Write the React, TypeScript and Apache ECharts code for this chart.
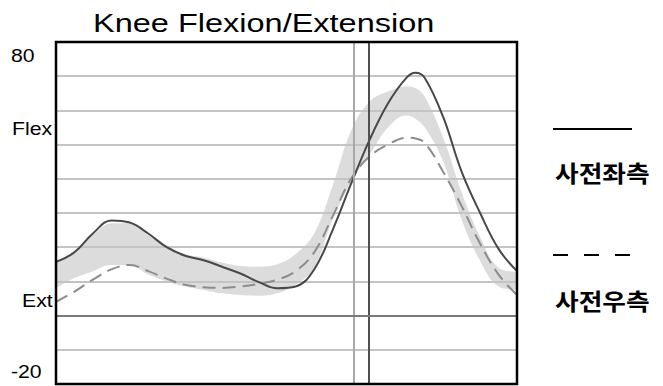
import React, { useEffect, useRef } from "react";
import * as echarts from "echarts";

const gaitPct = [0, 4, 8, 12, 16, 20, 24, 28, 32, 36, 40, 44, 48, 52, 56, 60, 64, 68, 72, 76, 78, 80, 84, 88, 92, 96, 100];
const leftKnee = [15.7, 18.5, 24, 27.8, 27.2, 24, 20, 17.5, 16.2, 14.3, 12.3, 9.8, 8, 8.5, 13.5, 25, 38.5, 51.3, 62, 69.5, 71, 69.5, 58, 42, 30, 19.5, 13];
const rightKnee = [4, 7, 10.5, 13.5, 14.8, 13, 10.8, 9, 8.3, 8.1, 8.5, 9.3, 10.5, 13, 18.5, 29, 40, 46.5, 50, 52, 51.8, 50.5, 42, 32, 21, 12, 6];
const normalUpper = [15.7, 19, 23.5, 27, 27, 23.5, 20.5, 18, 17, 15.5, 14.5, 14.3, 15, 18, 24, 38, 54, 62.5, 65.5, 67, 66.5, 64, 52, 36, 23, 14, 12.8];
const normalLower = [8, 11, 13, 14.8, 14.8, 12, 10, 8.5, 7.5, 6.5, 6, 5.8, 6.5, 9, 14, 28, 39, 47, 55, 58.5, 57.5, 55, 45, 28, 16, 8.5, 7.5];
const events = [64.6, 67.9];
const yLabels = [
  { text: "80", x: 11, y: 56 },
  { text: "Flex", x: 12, y: 129 },
  { text: "Ext", x: 22, y: 301 },
  { text: "-20", x: 11, y: 372 },
];
const legendNames = ["사전좌측", "사전우측"];

export default function App() {
  const ref = useRef<HTMLDivElement>(null);
  useEffect(() => {
    if (!ref.current) return;
    const chart = echarts.init(ref.current, undefined, { renderer: "svg" });
    const pairs = (arr: number[]) => gaitPct.map((x, i) => [x, arr[i]]);
    const font = "Liberation Sans, Arial, sans-serif";
    chart.setOption({
      animation: false,
      grid: { left: 56, top: 42, width: 461, height: 342, show: false },
      xAxis: {
        type: "value",
        min: 0,
        max: 100,
        show: false,
        splitLine: { show: false },
      },
      yAxis: {
        type: "value",
        min: -20,
        max: 80,
        interval: 10,
        axisLabel: { show: false },
        axisLine: { show: false },
        axisTick: { show: false },
        splitLine: { show: true, lineStyle: { color: "#c4c4c4", width: 2 } },
      },
      series: [
        {
          type: "line",
          data: pairs(normalUpper),
          smooth: 0.4,
          symbol: "none",
          lineStyle: { opacity: 0 },
          areaStyle: { color: "#dcdcdc", opacity: 1, origin: "start" },
          z: -2,
          silent: true,
        },
        {
          type: "line",
          data: pairs(normalLower),
          smooth: 0.4,
          symbol: "none",
          lineStyle: { opacity: 0 },
          areaStyle: { color: "#ffffff", opacity: 1, origin: "start" },
          z: -1,
          silent: true,
        },
        {
          type: "line",
          data: pairs(rightKnee),
          smooth: 0.4,
          symbol: "none",
          lineStyle: { color: "#8c8c8c", width: 2, type: [13, 7] },
          z: 3,
          markLine: {
            silent: true,
            symbol: "none",
            label: { show: false },
            data: [
              { xAxis: events[0], lineStyle: { color: "#a8a8a8", width: 2, type: "solid" } },
              { xAxis: events[1], lineStyle: { color: "#505050", width: 2, type: "solid" } },
              { yAxis: 0, lineStyle: { color: "#7a7a7a", width: 2, type: "solid" } },
            ],
          },
        },
        {
          type: "line",
          data: pairs(leftKnee),
          smooth: 0.4,
          symbol: "none",
          lineStyle: { color: "#484848", width: 2, type: "solid" },
          z: 4,
        },
      ],
      graphic: [
        {
          type: "rect",
          shape: { x: 56, y: 42, width: 461, height: 342 },
          style: { fill: "none", stroke: "#000", lineWidth: 2.5 },
          z: 10,
          silent: true,
        },
        {
          type: "text",
          x: 93,
          y: 23,
          scaleX: 1.3,
          style: { text: "Knee Flexion/Extension", font: `25px ${font}`, fill: "#000", align: "left", verticalAlign: "middle" },
        },
        ...yLabels.map((l) => ({
          type: "text",
          x: l.x,
          y: l.y,
          scaleX: 1.18,
          style: { text: l.text, font: `18px ${font}`, fill: "#000", align: "left", verticalAlign: "middle" },
        })),
        {
          type: "line",
          shape: { x1: 553, y1: 129, x2: 632, y2: 129 },
          style: { stroke: "#000", lineWidth: 2 },
        },
        {
          type: "line",
          shape: { x1: 553, y1: 255, x2: 632, y2: 255 },
          style: { stroke: "#000", lineWidth: 2, lineDash: [15, 16] },
        },
        ...legendNames.map((t, i) => ({
          type: "text",
          x: 555,
          y: i === 0 ? 172 : 300,
          scaleX: 1.12,
          style: {
            text: t,
            font: `bold 23px "Noto Sans CJK KR", sans-serif`,
            fill: "#000",
            align: "left",
            verticalAlign: "middle",
          },
        })),
      ],
    });
    return () => chart.dispose();
  }, []);
  return <div ref={ref} style={{ position: "absolute", left: 0, top: 0, width: 663, height: 386 }} />;
}
